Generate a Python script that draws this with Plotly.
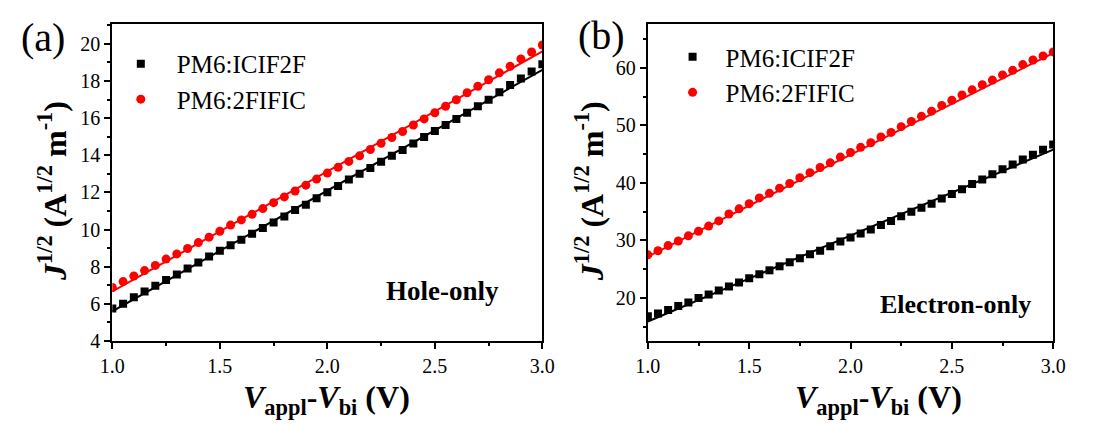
import plotly.graph_objects as go

# ---------------- data ----------------
voltage = [1.00, 1.05, 1.10, 1.15, 1.20, 1.25, 1.30, 1.35, 1.40, 1.45,
           1.50, 1.55, 1.60, 1.65, 1.70, 1.75, 1.80, 1.85, 1.90, 1.95,
           2.00, 2.05, 2.10, 2.15, 2.20, 2.25, 2.30, 2.35, 2.40, 2.45,
           2.50, 2.55, 2.60, 2.65, 2.70, 2.75, 2.80, 2.85, 2.90, 2.95, 3.00]

# (a) Hole-only
hole_icif2f = [5.75, 6.01, 6.36, 6.66, 6.97, 7.29, 7.58, 7.90, 8.23, 8.55,
               8.86, 9.16, 9.45, 9.77, 10.08, 10.38, 10.70, 11.05, 11.34, 11.69,
               12.01, 12.34, 12.69, 13.00, 13.32, 13.65, 13.97, 14.28, 14.63, 14.98,
               15.31, 15.63, 15.96, 16.29, 16.64, 16.99, 17.39, 17.78, 18.13, 18.51, 18.90]
hole_2fific = [6.88, 7.20, 7.50, 7.79, 8.07, 8.41, 8.69, 8.98, 9.30, 9.59,
               9.91, 10.24, 10.52, 10.82, 11.13, 11.45, 11.76, 12.08, 12.39, 12.72,
               13.04, 13.35, 13.67, 13.97, 14.31, 14.65, 14.96, 15.28, 15.63, 15.96,
               16.29, 16.64, 16.99, 17.37, 17.72, 18.07, 18.44, 18.79, 19.19, 19.56, 19.94]

# (b) Electron-only
elec_icif2f = [16.8, 17.3, 17.9, 18.6, 19.2, 20.0, 20.6, 21.3, 22.0, 22.7,
               23.4, 24.1, 24.8, 25.5, 26.2, 26.9, 27.6, 28.2, 29.0, 29.8,
               30.5, 31.2, 31.9, 32.7, 33.4, 34.2, 35.0, 35.7, 36.4, 37.3,
               38.1, 38.9, 39.8, 40.6, 41.5, 42.4, 43.2, 44.1, 44.9, 45.8, 46.7]
elec_2fific = [27.5, 28.2, 29.1, 29.9, 30.8, 31.6, 32.5, 33.4, 34.6, 35.5,
               36.4, 37.4, 38.2, 39.1, 39.9, 40.9, 41.8, 42.7, 43.5, 44.5,
               45.3, 46.2, 47.0, 48.0, 48.8, 49.8, 50.7, 51.6, 52.5, 53.5,
               54.4, 55.3, 56.2, 57.1, 57.9, 58.8, 59.6, 60.6, 61.4, 62.1, 62.8]

# linear fits (end points)
fit_v = [1.0, 3.0]
hole_fit_icif2f = [5.6, 18.6]
hole_fit_2fific = [6.67, 19.6]
elec_fit_icif2f = [15.9, 45.8]
elec_fit_2fific = [27.2, 62.6]

names = ["PM6:ICIF2F", "PM6:2FIFIC"]
x_ticks = [1.0, 1.5, 2.0, 2.5, 3.0]

# ---------------- figure ----------------
W, H = 1116, 428
SERIF = "'Liberation Serif', 'Times New Roman', Times, serif"

fig = go.Figure()

def add_panel(xa, ya, leg, y_black, y_red, fit_black, fit_red):
    fig.add_trace(go.Scatter(x=voltage, y=y_black, mode="markers", name=names[0],
                             marker=dict(symbol="square", size=8, color="black"),
                             xaxis=xa, yaxis=ya, legend=leg))
    fig.add_trace(go.Scatter(x=voltage, y=y_red, mode="markers", name=names[1],
                             marker=dict(symbol="circle", size=9, color="#ff0000"),
                             xaxis=xa, yaxis=ya, legend=leg))
    fig.add_trace(go.Scatter(x=fit_v, y=fit_black, mode="lines", showlegend=False,
                             line=dict(color="black", width=2), xaxis=xa, yaxis=ya))
    fig.add_trace(go.Scatter(x=fit_v, y=fit_red, mode="lines", showlegend=False,
                             line=dict(color="#ff0000", width=2), xaxis=xa, yaxis=ya))

add_panel("x", "y", "legend", hole_icif2f, hole_2fific, hole_fit_icif2f, hole_fit_2fific)
add_panel("x2", "y2", "legend2", elec_icif2f, elec_2fific, elec_fit_icif2f, elec_fit_2fific)

def px_x(p):
    return p / W

def px_y(p):
    return 1 - p / H

axis_common = dict(
    showline=True, linewidth=2, linecolor="black", mirror=True,
    ticks="outside", ticklen=6, tickwidth=2, tickcolor="black",
    showgrid=False, zeroline=False,
    tickfont=dict(family=SERIF, size=20, color="black"),
)

ydom = [px_y(350), px_y(25)]

fig.update_layout(
    width=W, height=H,
    margin=dict(l=0, r=0, t=0, b=0),
    paper_bgcolor="white", plot_bgcolor="white",
    font=dict(family=SERIF, color="black"),
    xaxis=dict(domain=[px_x(101.7), px_x(542)], range=[1, 3], tickvals=x_ticks,
               tickformat=".1f", anchor="y",
               minor=dict(ticks="outside", ticklen=3, tickwidth=2, dtick=0.25, tick0=1),
               **axis_common),
    yaxis=dict(domain=ydom, range=[4, 21.05], dtick=2, tick0=0, anchor="x",
               minor=dict(ticks="outside", ticklen=3, tickwidth=2, dtick=1, tick0=0),
               **axis_common),
    xaxis2=dict(domain=[px_x(650), px_x(1065)], range=[1, 3], tickvals=x_ticks,
                tickformat=".1f", anchor="y2",
                minor=dict(ticks="outside", ticklen=3, tickwidth=2, dtick=0.25, tick0=1),
                **axis_common),
    yaxis2=dict(domain=ydom, range=[12.5, 67.6], dtick=10, tick0=0, anchor="x2",
                minor=dict(ticks="outside", ticklen=3, tickwidth=2, dtick=5, tick0=0),
                **axis_common),
    legend=dict(x=px_x(94), y=px_y(42), xanchor="left", yanchor="top",
                font=dict(family=SERIF, size=25, color="black"),
                bgcolor="rgba(0,0,0,0)", itemwidth=62, tracegroupgap=0),
    legend2=dict(x=px_x(662), y=px_y(35), xanchor="left", yanchor="top",
                 font=dict(family=SERIF, size=25, color="black"),
                 bgcolor="rgba(0,0,0,0)", itemwidth=56, tracegroupgap=0),
    showlegend=True,
)

ytitle = "<i>J</i><sup>1/2</sup> (A<sup>1/2</sup> m<sup>-1</sup>)"
xtitle = "<i>V</i><sub>appl</sub>-<i>V</i><sub>bi</sub> (V)"

annotations = [
    dict(text="(a)", x=px_x(31), y=px_y(38), font=dict(family=SERIF, size=40)),
    dict(text="(b)", x=px_x(603), y=px_y(36), font=dict(family=SERIF, size=40)),
    dict(text="<b>Hole-only</b>", x=px_x(440), y=px_y(299), font=dict(family=SERIF, size=27)),
    dict(text="<b>Electron-only</b>", x=px_x(965), y=px_y(313), font=dict(family=SERIF, size=26)),
    dict(text="<b>" + ytitle + "</b>", x=px_x(40), y=px_y(196), textangle=-90,
         font=dict(family=SERIF, size=32)),
    dict(text="<b>" + ytitle + "</b>", x=px_x(590), y=px_y(196), textangle=-90,
         font=dict(family=SERIF, size=32)),
    dict(text="<b>" + xtitle + "</b>", x=px_x(321), y=px_y(410),
         font=dict(family=SERIF, size=32)),
    dict(text="<b>" + xtitle + "</b>", x=px_x(886), y=px_y(410),
         font=dict(family=SERIF, size=32)),
]
for a in annotations:
    a.update(xref="paper", yref="paper", showarrow=False, xanchor="center", yanchor="middle")
    a["font"]["color"] = "black"
fig.update_layout(annotations=annotations)

fig.write_html("out.html")
